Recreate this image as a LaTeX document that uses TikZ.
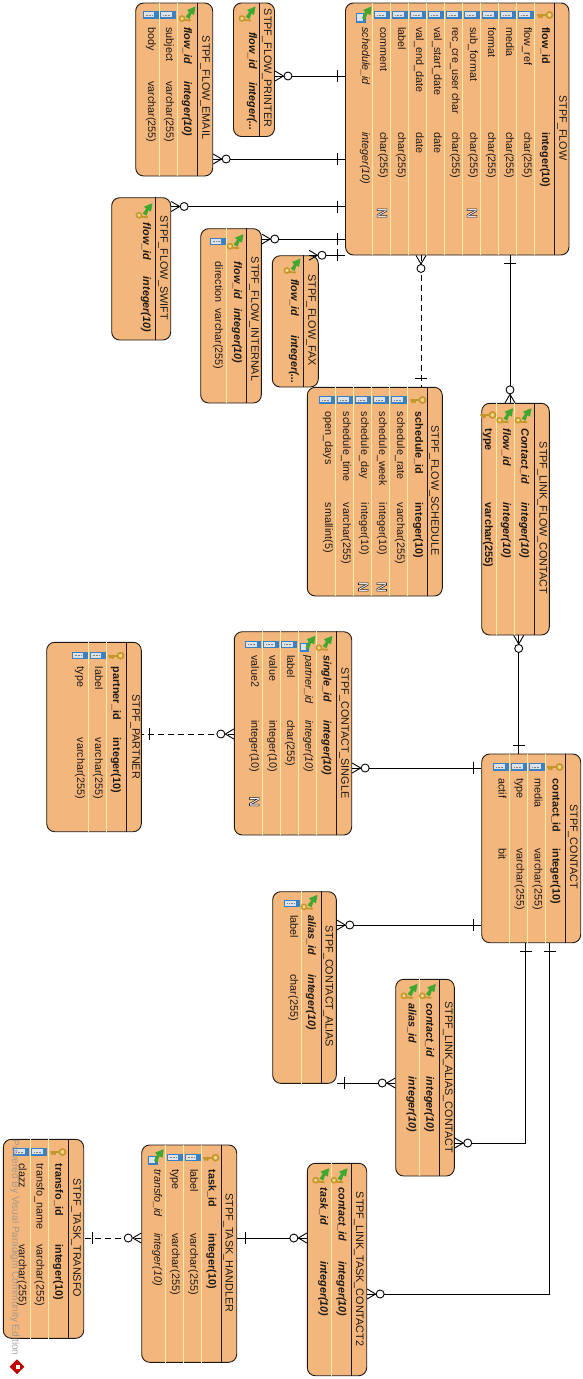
\documentclass[tikz,border=0pt]{standalone}
\usepackage{fontspec}
\setmainfont{Liberation Sans}
\usetikzlibrary{positioning,calc,fit,shapes.geometric,decorations.markings}
\definecolor{tblfill}{RGB}{243,183,125}
\definecolor{rowyel}{RGB}{253,238,165}
\definecolor{ink}{RGB}{30,24,20}
\definecolor{iconblue}{RGB}{58,128,196}
\definecolor{iconlight}{RGB}{220,226,232}
\definecolor{keygold}{RGB}{196,150,44}
\definecolor{keylight}{RGB}{240,214,130}
\definecolor{arrowgreen}{RGB}{62,168,48}
\newcommand{\nullmark}{\color{white}\special{pdf:code q 2 Tr 0.55 w 0.12 0.12 0.16 RG}N\special{pdf:code Q}}

\begin{document}
\begin{tikzpicture}
[x=1pt,y=-1pt,
    tbl/.style={draw=ink,fill=tblfill,rounded corners=8pt,line width=.9pt,inner sep=0pt},
    hline/.style={draw=ink,line width=.9pt},
    rowline/.style={draw=rowyel,line width=.8pt},
    title/.style={rotate=-90,inner sep=0pt,text=ink,font=\fontsize{10.8}{12}\selectfont},
    fld/.style={rotate=-90,anchor=west,inner sep=0pt,text height=8pt,text depth=2pt,text=ink,font=\fontsize{10.8}{12}\selectfont},
    pkf/.style={fld,font=\fontsize{10.8}{12}\selectfont\bfseries},
    fkf/.style={fld,font=\fontsize{10.8}{12}\selectfont\bfseries\itshape},
    itf/.style={fld,font=\fontsize{10.8}{12}\selectfont\itshape},
    nmark/.style={rotate=-90,inner sep=0pt,font=\fontsize{14}{15}\selectfont\bfseries},
    erline/.style={draw=black,line width=.9pt},
    fkline/.style={erline,dash pattern=on 6pt off 4pt},
    crowstart/.style={postaction={decorate,decoration={markings,mark=at position 0pt with
      {\draw[solid,line width=.9pt] (8.5,0) -- (0,5) (8.5,0) -- (0,-5);
       \draw[solid,line width=.9pt,fill=white] (13,0) circle (4);}}}},
    barend/.style={postaction={decorate,decoration={markings,mark=at position -8pt with
      {\draw[solid,line width=.9pt] (0,-6) -- (0,6);}}}},
    colicon/.pic={\fill[iconblue] (-8,-3.7) rectangle (8,3.7);
      \fill[iconlight] (-7,-2.6) rectangle (3.5,2.2);
      \draw[gray,line width=.6pt,densely dotted] (-5,0) -- (1.5,0);},
    keyicon/.pic={\draw[keygold,line width=2.2pt,line cap=round] (-7,0) -- (2,0) (-6,0) -- (-6,2.2) (-3.5,0) -- (-3.5,2.2);
      \draw[keygold,line width=1.7pt,fill=keylight] (4.5,0) circle (3);},
    fkicon/.pic={\draw[keygold,line width=1.5pt,fill=keylight] (-6,3.5) circle (2.6);
      \draw[keygold,line width=1.8pt] (-4,5) -- (3,5.5) (-2,1) -- (2,2);
      \fill[arrowgreen] (-2,2) -- (1,-3) -- (-1,-5) -- (7.5,-8.5) -- (6,0) -- (3.5,-1.5) -- (1.5,4) -- cycle;},
    fkcolicon/.pic={\fill[iconblue] (-7,-1.7) rectangle (2.5,7.7);
      \fill[iconlight] (-6,-.7) rectangle (-.5,5.5);
      \fill[arrowgreen] (-1,3) -- (2,-3) -- (0,-5) -- (8.7,-8.5) -- (7.5,0) -- (4.5,-1.5) -- (2,5) -- cycle;}]
\useasboundingbox (0,0) rectangle (583,1379);
%%%%%%%%%%
%% STPF_FLOW
\node (flow) [tbl,fit={(345.5,3) (569,255)}] {};
\foreach \x in {534.3,516.3,498.3,480.3,462.3,444.3,426.3,408.3,390.3,372.3}
  \draw[rowline] (\x,0 |- flow.north) -- (\x,0 |- flow.south);
\draw[hline] (554,0 |- flow.north) -- (554,0 |- flow.south);
\node (flowt) [title] at (562,128) {STPF\_FLOW};
\def\namey{27}\def\typey{132}\def\icony{15}
\node (flow1) [pkf] at (545,\namey) {flow\_id};
\node (flow1t) [pkf] at (545,\typey) {integer(10)};
\pic at (545,\icony) {keyicon};
\node (flow2) [fld] at (527,\namey) {flow\_ref};
\node (flow2t) [fld] at (527,\typey) {char(255)};
\pic at (526,\icony) {colicon};
\node (flow3) [fld] at (509,\namey) {media};
\node (flow3t) [fld] at (509,\typey) {char(255)};
\pic at (508,\icony) {colicon};
\node (flow4) [fld] at (491,\namey) {format};
\node (flow4t) [fld] at (491,\typey) {char(255)};
\pic at (490,\icony) {colicon};
\node (flow5) [fld] at (473,\namey) {sub\_format};
\node (flow5t) [fld] at (473,\typey) {char(255)};
\pic at (472,\icony) {colicon};
\node (flow5n) [nmark] at (472,213) {\nullmark};
\node (flow6) [fld] at (455,\namey) {rec\_cre\_user char};
\node (flow6t) [fld] at (455,\typey) {char(255)};
\pic at (454,\icony) {colicon};
\node (flow7) [fld] at (437,\namey) {val\_start\_date};
\node (flow7t) [fld] at (437,\typey) {date};
\pic at (436,\icony) {colicon};
\node (flow8) [fld] at (419,\namey) {val\_end\_date};
\node (flow8t) [fld] at (419,\typey) {date};
\pic at (418,\icony) {colicon};
\node (flow9) [fld] at (401,\namey) {label};
\node (flow9t) [fld] at (401,\typey) {char(255)};
\pic at (400,\icony) {colicon};
\node (flow10) [fld] at (383,\namey) {comment};
\node (flow10t) [fld] at (383,\typey) {char(255)};
\pic at (382,\icony) {colicon};
\node (flow10n) [nmark] at (382,213) {\nullmark};
\node (flow11) [itf] at (365,\namey) {schedule\_id};
\node (flow11t) [itf] at (365,\typey) {integer(10)};
\pic at (363,\icony) {fkcolicon};

%% STPF_FLOW_PRINTER
\node (printer) [tbl,fit={(233.5,3) (274.5,136.5)}] {};
\draw[hline] (259.3,0 |- printer.north) -- (259.3,0 |- printer.south);
\node (printert) [title] at (266.7,68) {STPF\_FLOW\_PRINTER};
\node (printer1) [fkf] at (252,32) {flow\_id};
\node (printer1t) [fkf] at (252,82) {integer(...};
\pic at (248,15) {fkicon};

%% STPF_FLOW_EMAIL
\node (email) [tbl,fit={(135.7,3) (212.7,176)}] {};
\foreach \x in {177.3,159.3}
  \draw[rowline] (\x,0 |- email.north) -- (\x,0 |- email.south);
\draw[hline] (197.7,0 |- email.north) -- (197.7,0 |- email.south);
\node (emailt) [title] at (205,87.5) {STPF\_FLOW\_EMAIL};
\def\namey{27}\def\typey{81}\def\icony{15}
\node (email1) [fkf] at (187,\namey) {flow\_id};
\node (email1t) [fkf] at (187,\typey) {integer(10)};
\pic at (188,\icony) {fkicon};
\node (email2) [fld] at (169,\namey) {subject};
\node (email2t) [fld] at (169,\typey) {varchar(255)};
\pic at (168,\icony) {colicon};
\node (email3) [fld] at (151,\namey) {body};
\node (email3t) [fld] at (151,\typey) {varchar(255)};
\pic at (150.5,\icony) {colicon};

%% STPF_FLOW_SWIFT
\node (swift) [tbl,fit={(111.7,197.7) (170.7,340)}] {};
\draw[hline] (155.7,0 |- swift.north) -- (155.7,0 |- swift.south);
\node (swiftt) [title] at (163,267.5) {STPF\_FLOW\_SWIFT};
\node (swift1) [fkf] at (146,222.7) {flow\_id};
\node (swift1t) [fkf] at (146,276.7) {integer(10)};
\pic at (145,211.7) {fkicon};

%% STPF_FLOW_INTERNAL
\node (internal) [tbl,fit={(200.7,228.7) (261.3,403)}] {};
\draw[rowline] (226.7,0 |- internal.north) -- (226.7,0 |- internal.south);
\draw[hline] (246.7,0 |- internal.north) -- (246.7,0 |- internal.south);
\node (internalt) [title] at (254,319) {STPF\_FLOW\_INTERNAL};
\node (internal1) [fkf] at (237,261.7) {flow\_id};
\node (internal1t) [fkf] at (237,308) {integer(10)};
\pic at (236,242.7) {fkicon};
\node (internal2) [fld] at (218,261.7) {direction};
\node (internal2t) [fld] at (218,308) {varchar(255)};
\pic at (217.7,241.7) {colicon};

%% STPF_FLOW_FAX
\node (fax) [tbl,fit={(272.3,255.7) (318.3,387)}] {};
\draw[hline] (303.3,0 |- fax.north) -- (303.3,0 |- fax.south);
\node (faxt) [title] at (311,320) {STPF\_FLOW\_FAX};
\node (fax1) [fkf] at (294,279) {flow\_id};
\node (fax1t) [fkf] at (294,335) {integer(...};
\pic at (293,267) {fkicon};

%% STPF_FLOW_SCHEDULE
\node (schedule) [tbl,fit={(307.3,387.3) (442.3,596)}] {};
\foreach \x in {407.7,389.7,371.7,353.7,335.7}
  \draw[rowline] (\x,0 |- schedule.north) -- (\x,0 |- schedule.south);
\draw[hline] (427.3,0 |- schedule.north) -- (427.3,0 |- schedule.south);
\node (schedulet) [title] at (434,490.5) {STPF\_FLOW\_SCHEDULE};
\def\namey{411.7}\def\typey{502.7}\def\icony{400}
\node (schedule1) [pkf] at (418.3,\namey) {schedule\_id};
\node (schedule1t) [pkf] at (418.3,\typey) {integer(10)};
\pic at (418,\icony) {keyicon};
\node (schedule2) [fld] at (400,\namey) {schedule\_rate};
\node (schedule2t) [fld] at (400,\typey) {varchar(255)};
\pic at (399,\icony) {colicon};
\node (schedule3) [fld] at (382,\namey) {schedule\_week};
\node (schedule3t) [fld] at (382,\typey) {integer(10)};
\pic at (381,\icony) {colicon};
\node (schedule3n) [nmark] at (381.7,587) {\nullmark};
\node (schedule4) [fld] at (364,\namey) {schedule\_day};
\node (schedule4t) [fld] at (364,\typey) {integer(10)};
\pic at (363,\icony) {colicon};
\node (schedule4n) [nmark] at (363.3,587) {\nullmark};
\node (schedule5) [fld] at (346,\namey) {schedule\_time};
\node (schedule5t) [fld] at (346,\typey) {varchar(255)};
\pic at (345,\icony) {colicon};
\node (schedule6) [fld] at (328,\namey) {open\_days};
\node (schedule6t) [fld] at (328,\typey) {smallint(5)};
\pic at (327,\icony) {colicon};

%% STPF_LINK_FLOW_CONTACT
\node (lfc) [tbl,fit={(481.7,403.3) (549.3,635)}] {};
\foreach \x in {514.3,496.3}
  \draw[rowline] (\x,0 |- lfc.north) -- (\x,0 |- lfc.south);
\draw[hline] (534.3,0 |- lfc.north) -- (534.3,0 |- lfc.south);
\node (lfct) [title] at (542.3,518) {STPF\_LINK\_FLOW\_CONTACT};
\def\namey{428.3}\def\typey{502.7}\def\icony{416.7}
\node (lfc1) [fkf] at (524.3,\namey) {Contact\_id};
\node (lfc1t) [fkf] at (524.3,\typey) {integer(10)};
\pic at (524,\icony) {fkicon};
\node (lfc2) [fkf] at (506,\namey) {flow\_id};
\node (lfc2t) [fkf] at (506,\typey) {integer(10)};
\pic at (505.7,\icony) {fkicon};
\node (lfc3) [pkf] at (488,\namey) {type};
\node (lfc3t) [pkf] at (488,\typey) {varchar(255)};
\pic at (488,415) {keyicon};

%% STPF_PARTNER
\node (partner) [tbl,fit={(46.7,642.3) (141.3,831.7)}] {};
\foreach \x in {106.7,88.7}
  \draw[rowline] (\x,0 |- partner.north) -- (\x,0 |- partner.south);
\draw[hline] (126.7,0 |- partner.north) -- (126.7,0 |- partner.south);
\node (partnert) [title] at (135,736.7) {STPF\_PARTNER};
\def\namey{666.7}\def\typey{737.7}\def\icony{655.7}
\node (partner1) [pkf] at (116,\namey) {partner\_id};
\node (partner1t) [pkf] at (116,\typey) {integer(10)};
\pic at (116,\icony) {keyicon};
\node (partner2) [fld] at (98,\namey) {label};
\node (partner2t) [fld] at (98,\typey) {varchar(255)};
\pic at (97.5,\icony) {colicon};
\node (partner3) [fld] at (80,\namey) {type};
\node (partner3t) [fld] at (80,\typey) {varchar(255)};
\pic at (79.5,\icony) {colicon};

%% STPF_CONTACT_SINGLE
\node (single) [tbl,fit={(234.3,631.7) (351.7,835)}] {};
\foreach \x in {316.7,298.7,280.7,262.7}
  \draw[rowline] (\x,0 |- single.north) -- (\x,0 |- single.south);
\draw[hline] (336,0 |- single.north) -- (336,0 |- single.south);
\node (singlet) [title] at (344,733) {STPF\_CONTACT\_SINGLE};
\def\namey{655}\def\typey{720}\def\icony{644.3}
\node (single1) [fkf] at (326.7,\namey) {single\_id};
\node (single1t) [fkf] at (326.7,\typey) {integer(10)};
\pic at (325,\icony) {fkicon};
\node (single2) [itf] at (308.3,\namey) {partner\_id};
\node (single2t) [itf] at (308.3,\typey) {integer(10)};
\pic at (306.7,\icony) {fkcolicon};
\node (single3) [fld] at (290,\namey) {label};
\node (single3t) [fld] at (290,\typey) {char(255)};
\pic at (289,\icony) {colicon};
\node (single4) [fld] at (272.3,\namey) {value};
\node (single4t) [fld] at (272.3,\typey) {integer(10)};
\pic at (271,\icony) {colicon};
\node (single5) [fld] at (254.3,\namey) {value2};
\node (single5t) [fld] at (254.3,\typey) {integer(10)};
\pic at (253,\icony) {colicon};
\node (single5n) [nmark] at (254.3,801.7) {\nullmark};

%% STPF_CONTACT
\node (contact) [tbl,fit={(481.7,754) (580.7,942.7)}] {};
\foreach \x in {545.3,527.3,509.3}
  \draw[rowline] (\x,0 |- contact.north) -- (\x,0 |- contact.south);
\draw[hline] (565.7,0 |- contact.north) -- (565.7,0 |- contact.south);
\node (contactt) [title] at (572.7,846.7) {STPF\_CONTACT};
\def\namey{778.3}\def\typey{848.3}\def\icony{767}
\node (contact1) [pkf] at (555.7,\namey) {contact\_id};
\node (contact1t) [pkf] at (555.7,\typey) {integer(10)};
\pic at (555,\icony) {keyicon};
\node (contact2) [fld] at (537.7,\namey) {media};
\node (contact2t) [fld] at (537.7,\typey) {varchar(255)};
\pic at (537,\icony) {colicon};
\node (contact3) [fld] at (519.5,\namey) {type};
\node (contact3t) [fld] at (519.5,\typey) {varchar(255)};
\pic at (519,\icony) {colicon};
\node (contact4) [fld] at (501.7,\namey) {actif};
\node (contact4t) [fld] at (501.7,\typey) {bit};
\pic at (501,\icony) {colicon};

%% STPF_CONTACT_ALIAS
\node (alias) [tbl,fit={(272.7,891.7) (336.3,1083.3)}] {};
\draw[rowline] (301.3,0 |- alias.north) -- (301.3,0 |- alias.south);
\draw[hline] (321.3,0 |- alias.north) -- (321.3,0 |- alias.south);
\node (aliast) [title] at (328.3,986.3) {STPF\_CONTACT\_ALIAS};
\node (alias1) [fkf] at (311,915) {alias\_id};
\node (alias1t) [fkf] at (311,974.3) {integer(10)};
\pic at (310,903.3) {fkicon};
\node (alias2) [fld] at (293.3,915) {label};
\node (alias2t) [fld] at (293.3,974.3) {char(255)};
\pic at (292.3,903.3) {colicon};

%% STPF_LINK_ALIAS_CONTACT
\node (linkalias) [tbl,fit={(395.7,979.3) (454.3,1176)}] {};
\draw[rowline] (419.3,0 |- linkalias.north) -- (419.3,0 |- linkalias.south);
\draw[hline] (439.3,0 |- linkalias.north) -- (439.3,0 |- linkalias.south);
\node (linkaliast) [title] at (447.7,1077.5) {STPF\_LINK\_ALIAS\_CONTACT};
\node (linkalias1) [fkf] at (429.3,1003.3) {contact\_id};
\node (linkalias1t) [fkf] at (429.3,1076.7) {integer(10)};
\pic at (428.3,992.3) {fkicon};
\node (linkalias2) [fkf] at (411.7,1003.3) {alias\_id};
\node (linkalias2t) [fkf] at (411.7,1076.7) {integer(10)};
\pic at (410,992.3) {fkicon};

%% STPF_LINK_TASK_CONTACT2
\node (linktask) [tbl,fit={(307.3,1163.3) (366.7,1375.7)}] {};
\draw[rowline] (331.7,0 |- linktask.north) -- (331.7,0 |- linktask.south);
\draw[hline] (351.7,0 |- linktask.north) -- (351.7,0 |- linktask.south);
\node (linktaskt) [title] at (358.7,1269) {STPF\_LINK\_TASK\_CONTACT2};
\node (linktask1) [fkf] at (341.7,1187.3) {contact\_id};
\node (linktask1t) [fkf] at (341.7,1261) {integer(10)};
\pic at (340,1176.7) {fkicon};
\node (linktask2) [fkf] at (323.3,1187.3) {task\_id};
\node (linktask2t) [fkf] at (323.3,1261) {integer(10)};
\pic at (321.7,1176.7) {fkicon};

%% STPF_TASK_HANDLER
\node (handler) [tbl,fit={(141.7,1145) (236.7,1362.3)}] {};
\foreach \x in {201.3,183.3,165.3}
  \draw[rowline] (\x,0 |- handler.north) -- (\x,0 |- handler.south);
\draw[hline] (221.3,0 |- handler.north) -- (221.3,0 |- handler.south);
\node (handlert) [title] at (228.3,1252.8) {STPF\_TASK\_HANDLER};
\def\namey{1169.3}\def\typey{1233.3}\def\icony{1157.7}
\node (handler1) [pkf] at (211.7,\namey) {task\_id};
\node (handler1t) [pkf] at (211.7,\typey) {integer(10)};
\pic at (211,\icony) {keyicon};
\node (handler2) [fld] at (193.3,\namey) {label};
\node (handler2t) [fld] at (193.3,\typey) {varchar(255)};
\pic at (192.5,\icony) {colicon};
\node (handler3) [fld] at (175,\namey) {type};
\node (handler3t) [fld] at (175,\typey) {varchar(255)};
\pic at (174.5,\icony) {colicon};
\node (handler4) [itf] at (157.3,\namey) {transfo\_id};
\node (handler4t) [itf] at (157.3,\typey) {integer(10)};
\pic at (155,\icony) {fkcolicon};

%% STPF_TASK_TRANSFO
\node (transfo) [tbl,fit={(3.3,1139.3) (83.7,1338.3)}] {};
\foreach \x in {48.7,30.7}
  \draw[rowline] (\x,0 |- transfo.north) -- (\x,0 |- transfo.south);
\draw[hline] (68.3,0 |- transfo.north) -- (68.3,0 |- transfo.south);
\node (transfot) [title] at (76,1237.8) {STPF\_TASK\_TRANSFO};
\def\namey{1163.3}\def\typey{1244.3}\def\icony{1152}
\node (transfo1) [pkf] at (58.3,\namey) {transfo\_id};
\node (transfo1t) [pkf] at (58.3,\typey) {integer(10)};
\pic at (58,\icony) {keyicon};
\node (transfo2) [fld] at (39.5,\namey) {transfo\_name};
\node (transfo2t) [fld] at (39.5,\typey) {varchar(255)};
\pic at (39,\icony) {colicon};
\node (transfo3) [fld] at (22,\namey) {clazz};
\node (transfo3t) [fld] at (22,\typey) {varchar(255)};
\pic at (21,\icony) {colicon};

%% edges
\draw[erline,crowstart,barend] (printer.east |- 0,76) -- (flow.west |- 0,76);
\draw[erline,crowstart,barend] (email.east |- 0,159) -- (flow.west |- 0,159);
\draw[erline,crowstart,barend] (swift.east |- 0,206.5) -- (flow.west |- 0,206.5);
\draw[erline,crowstart,barend] (internal.east |- 0,239) -- (flow.west |- 0,239);
\draw[erline,crowstart,barend] (fax.north -| 309,0) -- (flow.west |- fax.north);
\draw[fkline,crowstart,barend] (flow.south -| 421,0) -- (schedule.north -| 421,0);
\draw[erline,crowstart,barend] (lfc.north -| 510,0) -- (flow.south -| 510,0);
\draw[erline,crowstart,barend] (lfc.south -| 518.7,0) -- (contact.north -| 518.7,0);
\draw[erline,crowstart,barend] (single.east |- 0,768) -- (contact.west |- 0,768);
\draw[fkline,crowstart,barend] (single.west |- 0,734) -- (partner.east |- 0,734);
\draw[erline,crowstart,barend] (alias.east |- 0,925) -- (contact.west |- 0,925);
\draw[erline,crowstart,barend] (linkalias.west |- 0,1083) -- (alias.east |- 0,1083);
\draw[erline,crowstart,barend] (linkalias.east |- 0,1143) -| (contact.south -| 525.7,0);
\draw[erline,crowstart,barend] (linktask.east |- 0,1294) -| (contact.south -| 549.5,0);
\draw[erline,crowstart,barend] (linktask.west |- 0,1238) -- (handler.east |- 0,1238);
\draw[fkline,crowstart,barend] (handler.west |- 0,1238) -- (transfo.east |- 0,1238);

%% watermark
\node (vpmark) [rotate=-90,inner sep=0pt,text=black!45,opacity=.75,font=\fontsize{10}{12}\selectfont] at (15,1247.5) {Powered By Visual Paradigm Community Edition};
\node (vplogo) [diamond,fill=red!75!black,inner sep=0pt,minimum width=15pt,minimum height=15pt] at (17,1366.7) {};
\fill[white] (vplogo.center) +(-1.5,-2) rectangle +(3,2);
\end{tikzpicture}
\end{document}
